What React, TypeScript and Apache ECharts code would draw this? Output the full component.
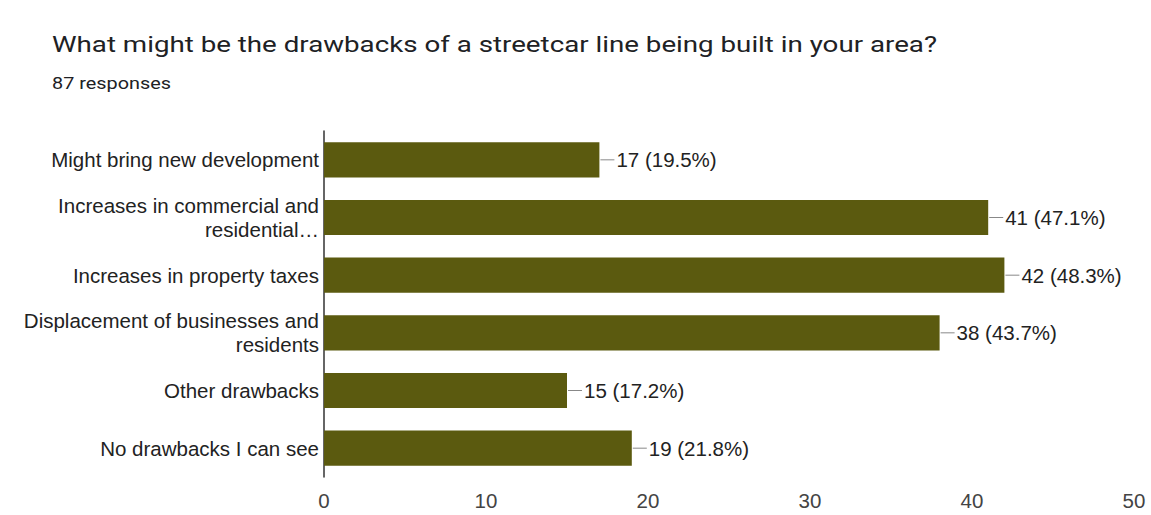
import React, { useEffect, useRef } from "react";
import * as echarts from "echarts";

const categories = [
  "Might bring new development",
  "Increases in commercial and\nresidential…",
  "Increases in property taxes",
  "Displacement of businesses and\nresidents",
  "Other drawbacks",
  "No drawbacks I can see",
];
const values = [17, 41, 42, 38, 15, 19];
const percents = ["19.5%", "47.1%", "48.3%", "43.7%", "17.2%", "21.8%"];
const xTicks = [0, 10, 20, 30, 40, 50];
const titleText = "What might be the drawbacks of a streetcar line being built in your area?";
const subtitleText = "87 responses";

const FONT = "'Liberation Sans', Arial, sans-serif";
const TFONT = "Roboto, 'Liberation Sans', sans-serif";

export default function App() {
  const ref = useRef<HTMLDivElement>(null);
  useEffect(() => {
    if (!ref.current) return;
    const chart = echarts.init(ref.current, null, { renderer: "svg" });
    chart.setOption({
      animation: false,
      backgroundColor: "#ffffff",
      graphic: [
        {
          type: "text",
          x: 52,
          y: 34,
          scaleX: 1.26,
          style: { text: titleText, fontFamily: TFONT, fontSize: 22, fill: "#202124" },
        },
        {
          type: "text",
          x: 52,
          y: 75,
          scaleX: 1.24,
          style: { text: subtitleText, fontFamily: TFONT, fontSize: 16, fill: "#202124" },
        },
      ],
      grid: { left: 324, right: 17, top: 131, bottom: 38, containLabel: false },
      xAxis: {
        type: "value",
        min: 0,
        max: 50,
        interval: 10,
        axisLine: { show: false },
        axisTick: { show: false },
        splitLine: { show: false },
        axisLabel: {
          fontFamily: FONT,
          fontSize: 20.5,
          color: "#444",
          margin: 13,
          formatter: (v: number) => (xTicks.includes(v) ? String(v) : ""),
        },
      },
      yAxis: {
        type: "category",
        inverse: true,
        data: categories,
        axisLine: { show: true, lineStyle: { color: "#333", width: 1.5 } },
        axisTick: { show: false },
        axisLabel: {
          fontFamily: FONT,
          fontSize: 20.5,
          color: "#222",
          margin: 5,
          align: "right",
          lineHeight: 24,
        },
      },
      series: [
        {
          type: "bar",
          data: values,
          barCategoryGap: "39%",
          itemStyle: { color: "#5b5a0f" },
          label: {
            show: true,
            position: "right",
            distance: 1,
            formatter: (p: any) => `{l|}{v|${values[p.dataIndex]} (${percents[p.dataIndex]})}`,
            rich: {
              l: { width: 14, height: 1, backgroundColor: "#888" },
              v: { fontFamily: FONT, fontSize: 20.5, color: "#222", padding: [0, 0, 0, 2] },
            },
          },
        },
      ],
    });
    return () => chart.dispose();
  }, []);
  return (
    <div
      ref={ref}
      style={{ position: "fixed", left: 0, top: 0, width: 1151, height: 515 }}
    />
  );
}
